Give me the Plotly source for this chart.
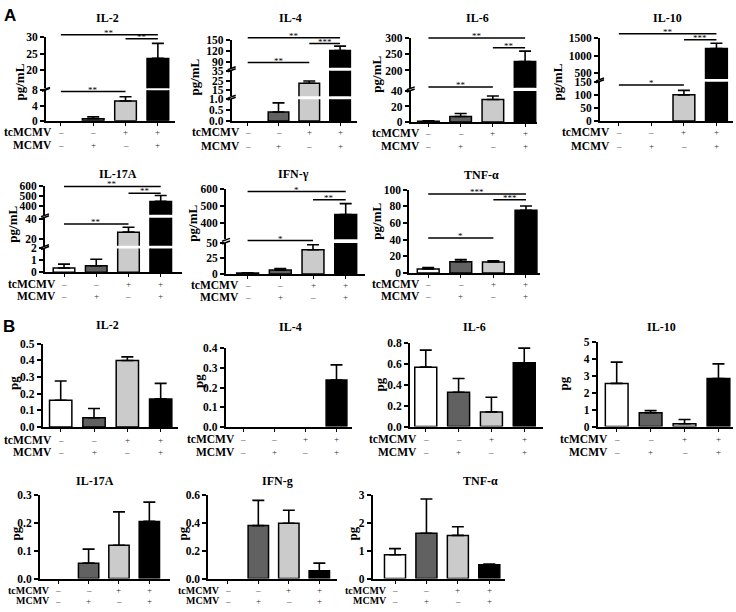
import plotly.graph_objects as go

W, H = 736, 612

# ---------------- data ----------------
CATEGORIES = [0, 1, 2, 3]          # control, MCMV, tcMCMV, tcMCMV+MCMV
TC_SIGNS = ["–", "–", "+", "+"]
MC_SIGNS = ["–", "+", "–", "+"]
BAR_COLORS = ["#ffffff", "#616161", "#cbcbcb", "#000000"]

# Panel A (pg/mL)
A_IL2_MEAN = [0, 0.5, 5.2, 23.6]
A_IL2_ERR = [0, 0.5, 1.1, 4.5]
A_IL4_MEAN = [0, 0.41, 22, 122]
A_IL4_ERR = [0, 0.42, 2.5, 12]
A_IL6_MEAN = [1.0, 7, 29, 227]
A_IL6_ERR = [0.6, 4, 4.5, 32]
A_IL10_MEAN = [0, 0, 100, 1200]
A_IL10_ERR = [0, 0, 17, 150]
A_IL17_MEAN = [0.36, 0.55, 26.6, 447]
A_IL17_ERR = [0.33, 0.55, 5, 60]
A_IFN_MEAN = [1.5, 6.2, 39, 449]
A_IFN_ERR = [0.3, 2.5, 8, 64]
A_TNF_MEAN = [4.7, 13.6, 13.3, 75.3]
A_TNF_ERR = [1.9, 2.4, 1.2, 5.1]

# Panel B (pg)
B_IL2_MEAN = [0.16, 0.055, 0.398, 0.168]
B_IL2_ERR = [0.115, 0.055, 0.022, 0.093]
B_IL4_MEAN = [0, 0, 0, 0.238]
B_IL4_ERR = [0, 0, 0, 0.078]
B_IL6_MEAN = [0.566, 0.327, 0.14, 0.607]
B_IL6_ERR = [0.162, 0.131, 0.14, 0.14]
B_IL10_MEAN = [2.54, 0.81, 0.17, 2.83]
B_IL10_ERR = [1.25, 0.13, 0.25, 0.86]
B_IL17_MEAN = [0, 0.055, 0.119, 0.204]
B_IL17_ERR = [0, 0.05, 0.119, 0.069]
B_IFN_MEAN = [0, 0.378, 0.395, 0.056]
B_IFN_ERR = [0, 0.18, 0.093, 0.054]
B_TNF_MEAN = [0.85, 1.62, 1.54, 0.49]
B_TNF_ERR = [0.22, 1.22, 0.31, 0.03]

# ---------------- layout specs (pixels) ----------------
# segs: (range_lo, range_hi, px_bottom, px_top, tickvals, tickformat)
PANELS = [
    dict(title="IL-2", mean=A_IL2_MEAN, err=A_IL2_ERR, ytitle="pg/mL",
         box=(46, 175), xr=[-0.46, 3.53], tpos=(107, 12), ypos=(19, 78),
         segs=[(0, 8, 117, 86, [0, 4, 8], ""), (14.6, 30, 84, 31.7, [20, 25, 30], "")],
         sig=[(0, 3, 29.3, "**"), (2, 3, 33.3, "**"), (0, 2, 87.3, "**")],
         rows=(11.5, 25), lab=11.5),
    dict(title="IL-4", mean=A_IL4_MEAN, err=A_IL4_ERR, ytitle="pg/mL",
         box=(231.7, 356.7), xr=[-0.52, 3.54], tpos=(290, 12), ypos=(195, 73),
         segs=[(0, 1, 117.3, 95, [0, 0.5, 1.0], ".1f"),
               (7.9, 35.8, 92, 66, [15, 25, 35], ""),
               (74.7, 150, 63, 35, [90, 120, 150], "")],
         sig=[(0, 3, 32.3, "**"), (2, 3, 38.3, "***"), (0, 2, 57.7, "**")],
         rows=(11.5, 25), lab=11.5),
    dict(title="IL-6", mean=A_IL6_MEAN, err=A_IL6_ERR, ytitle="pg/mL",
         box=(410.7, 536.7), xr=[-0.55, 3.36], tpos=(477, 12), ypos=(377, 70),
         segs=[(0, 40, 118.3, 86.7, [0, 20, 40], ""),
               (147, 300, 83.5, 32.3, [200, 250, 300], "")],
         sig=[(0, 3, 32.7, "**"), (2, 3, 42.7, "**"), (0, 2, 82.7, "**")],
         rows=(11.5, 25), lab=11.5),
    dict(title="IL-10", mean=A_IL10_MEAN, err=A_IL10_ERR, ytitle="pg/mL",
         box=(600, 732.7), xr=[-0.58, 3.5], tpos=(667, 12), ypos=(557, 78),
         segs=[(0, 150, 117.3, 77.3, [0, 50, 100, 150], ""),
               (326, 1500, 74.5, 32.7, [500, 1000, 1500], "")],
         sig=[(0, 3, 28.3, "**"), (2, 3, 34.3, "***"), (0, 2, 80.7, "*")],
         rows=(11.5, 25), lab=11.5),
    dict(title="IL-17A", mean=A_IL17_MEAN, err=A_IL17_ERR, ytitle="pg/mL",
         box=(45, 182), xr=[-0.59, 3.66], tpos=(118, 171), ypos=(13, 222),
         segs=[(0, 2, 271.7, 247.3, [0, 1, 2], ""),
               (12.8, 41.3, 244.5, 216, [20, 40], ""),
               (310, 600, 213, 184, [400, 500, 600], "")],
         sig=[(0, 3, 184, "**"), (2, 3, 191, "**"), (0, 2, 222.3, "**")],
         rows=(11.6, 24), lab=11.5),
    dict(title="IFN-γ", mean=A_IFN_MEAN, err=A_IFN_ERR, ytitle="pg/mL",
         box=(226, 365), xr=[-0.66, 3.59], tpos=(293, 171), ypos=(193, 222),
         segs=[(0, 50, 273.3, 241.7, [0, 25, 50], ""),
               (301, 600, 238, 186.7, [400, 500, 600], "")],
         sig=[(0, 3, 189.3, "*"), (2, 3, 197.7, "**"), (0, 2, 239.3, "*")],
         rows=(11.6, 24), lab=11.5),
    dict(title="TNF-α", mean=A_TNF_MEAN, err=A_TNF_ERR, ytitle="pg/mL",
         box=(409.3, 540), xr=[-0.58, 3.43], tpos=(481, 172), ypos=(377, 220),
         segs=[(0, 100, 272.3, 187.3, [0, 20, 40, 60, 80, 100], "")],
         sig=[(0, 3, 191.7, "***"), (2, 3, 197.7, "***"), (0, 2, 236.7, "*")],
         rows=(11.6, 24), lab=11.5),
    dict(title="IL-2", mean=B_IL2_MEAN, err=B_IL2_ERR, ytitle="pg",
         box=(42.7, 178), xr=[-0.54, 3.52], tpos=(107.5, 325), ypos=(13.5, 385),
         segs=[(0, 0.5, 429.3, 344.3, [0, 0.1, 0.2, 0.3, 0.4, 0.5], ".1f")],
         sig=[], rows=(13, 25.7), lab=11.5),
    dict(title="IL-4", mean=B_IL4_MEAN, err=B_IL4_ERR, ytitle="pg",
         box=(225.7, 351.7), xr=[-0.57, 3.49], tpos=(290, 327), ypos=(198.5, 383),
         segs=[(0, 0.4, 429, 349.3, [0, 0.1, 0.2, 0.3, 0.4], ".1f")],
         sig=[], rows=(13, 25.7), lab=11.5),
    dict(title="IL-6", mean=B_IL6_MEAN, err=B_IL6_ERR, ytitle="pg",
         box=(410, 543.3), xr=[-0.48, 3.58], tpos=(474, 327), ypos=(379, 386),
         segs=[(0, 0.8, 429, 343.3, [0, 0.2, 0.4, 0.6, 0.8], ".1f")],
         sig=[], rows=(13, 25.7), lab=11.5),
    dict(title="IL-10", mean=B_IL10_MEAN, err=B_IL10_ERR, ytitle="pg",
         box=(597.7, 732.7), xr=[-0.56, 3.42], tpos=(661, 327), ypos=(563, 385),
         segs=[(0, 5, 429, 342.3, [0, 1, 2, 3, 4, 5], "")],
         sig=[], rows=(13, 25.7), lab=11.5),
    dict(title="IL-17A", mean=B_IL17_MEAN, err=B_IL17_ERR, ytitle="pg",
         box=(40, 170), xr=[-0.6, 3.68], tpos=(95, 485), ypos=(15, 538),
         segs=[(0, 0.3, 584, 498.3, [0, 0.1, 0.2, 0.3], ".1f")],
         sig=[], rows=(12, 22.7), lab=10),
    dict(title="IFN-g", mean=B_IFN_MEAN, err=B_IFN_ERR, ytitle="pg",
         box=(208.3, 336.7), xr=[-0.64, 3.57], tpos=(277, 485), ypos=(182, 538),
         segs=[(0, 0.6, 584, 498.3, [0, 0.2, 0.4, 0.6], ".1f")],
         sig=[], rows=(12, 22.7), lab=10),
    dict(title="TNF-α", mean=B_TNF_MEAN, err=B_TNF_ERR, ytitle="pg",
         box=(372.7, 505), xr=[-0.71, 3.5], tpos=(480, 485), ypos=(352, 538),
         segs=[(0, 3, 584, 498.3, [0, 1, 2, 3], "")],
         sig=[], rows=(12, 22.7), lab=10),
]

SERIF = "Liberation Serif"


def fx(px):
    return px / W


def fy(py):
    return 1 - py / H


fig = go.Figure()
layout = {}
annotations = []
shapes = []
n = 0

for p in PANELS:
    x0, x1 = p["box"]
    bottom_xid = None
    # zero-height bars / zero error bars are not drawn in the reference
    ys = [v if v != 0 else None for v in p["mean"]]
    es = [e if e != 0 else None for e in p["err"]]
    for k, (lo, hi, pyb, pyt, tv, tf) in enumerate(p["segs"]):
        n += 1
        sfx = "" if n == 1 else str(n)
        xid, yid = "x" + sfx, "y" + sfx
        if k == 0:
            bottom_xid = xid
        layout["xaxis" + sfx] = dict(
            domain=[fx(x0), fx(x1)], range=p["xr"], anchor=yid,
            visible=(k == 0), showline=True, linecolor="black", linewidth=2,
            ticks="outside", ticklen=3, tickwidth=1.2, tickcolor="black",
            tickvals=CATEGORIES, showticklabels=False, showgrid=False,
            zeroline=False, fixedrange=True)
        layout["yaxis" + sfx] = dict(
            domain=[fy(pyb), fy(pyt)], range=[lo, hi], anchor=xid,
            showline=True, linecolor="black", linewidth=2,
            ticks="outside", ticklen=4, tickwidth=1.5, tickcolor="black",
            tickvals=tv, tickformat=tf, showgrid=False, zeroline=False,
            tickfont=dict(family=SERIF, size=11.5, color="black", weight="bold"),
            fixedrange=True)
        fig.add_trace(go.Bar(
            x=CATEGORIES, y=ys,
            error_y=dict(type="data", array=es, arrayminus=[0] * 4,
                         symmetric=False, color="black", thickness=1.6, width=6),
            marker=dict(color=BAR_COLORS, line=dict(color="black", width=1.5)),
            xaxis=xid, yaxis=yid, showlegend=False, hoverinfo="skip"))
        # break marks on the y axis
        if len(p["segs"]) > 1:
            if k < len(p["segs"]) - 1:
                yy = pyt
                shapes.append(dict(type="line", xref="paper", yref="paper",
                                   x0=fx(x0 - 4), x1=fx(x0 + 4), y0=fy(yy + 1), y1=fy(yy - 2),
                                   line=dict(color="black", width=1.5)))
            if k > 0:
                yy = pyb
                shapes.append(dict(type="line", xref="paper", yref="paper",
                                   x0=fx(x0 - 4), x1=fx(x0 + 4), y0=fy(yy + 2), y1=fy(yy - 1),
                                   line=dict(color="black", width=1.5)))

    axis_py = p["segs"][0][2]
    # panel title
    annotations.append(dict(text=p["title"], x=fx(p["tpos"][0]), y=fy(p["tpos"][1]),
                            xref="paper", yref="paper", showarrow=False,
                            xanchor="center", yanchor="middle",
                            font=dict(family=SERIF, size=12, color="black", weight="bold")))
    # y title
    annotations.append(dict(text=p["ytitle"], x=fx(p["ypos"][0]), y=fy(p["ypos"][1]),
                            xref="paper", yref="paper", showarrow=False, textangle=-90,
                            xanchor="center", yanchor="middle",
                            font=dict(family=SERIF, size=13, color="black", weight="bold")))
    # group sign rows
    for row_i, (lab, signs) in enumerate([("tcMCMV", TC_SIGNS), ("MCMV", MC_SIGNS)]):
        yy = fy(axis_py + p["rows"][row_i])
        annotations.append(dict(text=lab, x=-0.2, y=yy, xref=bottom_xid, yref="paper",
                                showarrow=False, xanchor="right", yanchor="middle",
                                font=dict(family=SERIF, size=p["lab"], color="black", weight="bold")))
        for c, s in zip(CATEGORIES, signs):
            annotations.append(dict(text=s, x=c, y=yy, xref=bottom_xid, yref="paper",
                                    showarrow=False, xanchor="center", yanchor="middle",
                                    font=dict(family=SERIF, size=9, color="#333333")))
    # significance brackets
    for i0, i1, py, stars in p["sig"]:
        shapes.append(dict(type="line", xref=bottom_xid, yref="paper",
                           x0=CATEGORIES[i0], x1=CATEGORIES[i1], y0=fy(py), y1=fy(py),
                           line=dict(color="black", width=1.5)))
        annotations.append(dict(text=stars, x=(CATEGORIES[i0] + CATEGORIES[i1]) / 2, y=fy(py),
                                xref=bottom_xid, yref="paper", showarrow=False,
                                xanchor="center", yanchor="bottom", yshift=-5,
                                font=dict(family=SERIF, size=9, color="black")))

# panel letters
for letter, (lx, ly) in [("A", (10, 10)), ("B", (9, 327))]:
    annotations.append(dict(text=letter, x=fx(lx), y=fy(ly), xref="paper", yref="paper",
                            showarrow=False, xanchor="center", yanchor="middle",
                            font=dict(family="Liberation Sans", size=17, color="black", weight="bold")))

fig.update_layout(
    width=W, height=H, margin=dict(l=0, r=0, t=0, b=0, pad=0),
    paper_bgcolor="white", plot_bgcolor="white", bargap=0.33,
    annotations=annotations, shapes=shapes, **layout)

fig.write_html("out.html", config={"displayModeBar": False},
               post_script="document.body.style.margin='0';document.body.style.overflow='hidden';")
